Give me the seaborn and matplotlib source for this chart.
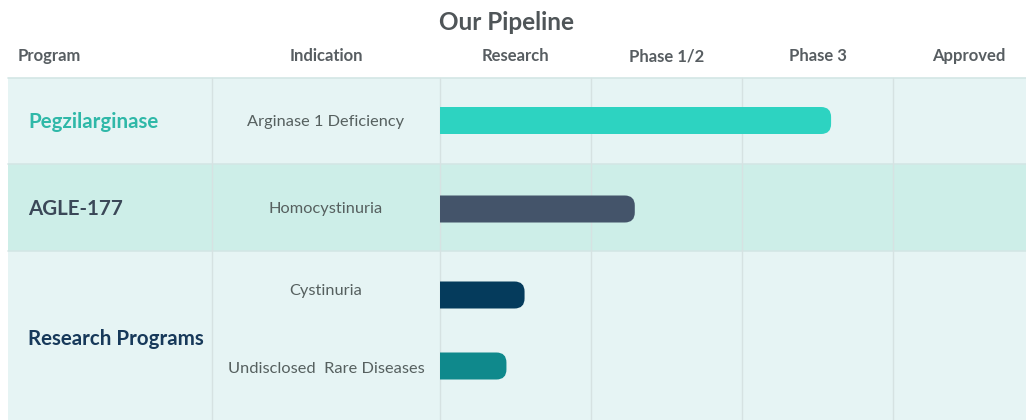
import numpy as np
import pandas as pd
import matplotlib
matplotlib.use("Agg")
import matplotlib.pyplot as plt
from matplotlib.patches import FancyBboxPatch, Rectangle
import seaborn as sns

# ---------------- data ----------------
title = "Our Pipeline"
column_headers = ["Program", "Indication"]
stages = ["Research", "Phase 1/2", "Phase 3", "Approved"]
programs = ["Pegzilarginase", "AGLE-177", "Research Programs"]
program_colors = ["#2fb8a8", "#3b4858", "#17395a"]
indications = ["Arginase 1 Deficiency", "Homocystinuria", "Cystinuria",
               "Undisclosed  Rare Diseases"]
indication_program = [0, 1, 2, 2]
progress = [2.59, 1.29, 0.56, 0.44]          # in stage units (1 = one stage)
bar_colors = ["#2dd3c1", "#44546a", "#053b5c", "#0f898c"]

# ---------------- layout (pixels) ----------------
W, H = 1026, 420
X0, PX = 440, 151          # pixel x of stage 0 and pixels per stage
def xd(px):
    return (px - X0) / PX

table_left = 8
table_top = 78
row_edges = [78, 164, 251, 420]
row_fill = ["#e6f4f4", "#cdeee8", "#e6f4f4"]
program_label_y = [122, 209, 339]
indication_label_y = [122, 209, 291, 369]
bar_y = [120.5, 209, 295, 366]
bar_h = 27
corner = 10
col_sep_px = [212, 440]
header_y = 56

sns.set_theme(style="white")
plt.rcParams["font.family"] = ["Lato", "DejaVu Sans"]

fig = plt.figure(figsize=(W / 100, H / 100), dpi=100)
ax = fig.add_axes([0, 0, 1, 1])

df = pd.DataFrame({"progress": progress, "row": bar_y, "indication": indications})
spacing = np.diff(sorted(bar_y)).min()
sns.barplot(data=df, x="progress", y="row", hue="indication",
            palette=dict(zip(indications, bar_colors)), orient="y",
            native_scale=True, dodge=False, legend=False, errorbar=None,
            saturation=1, width=bar_h / spacing, ax=ax)

bars = [p for p in ax.patches if isinstance(p, Rectangle)]
ax.set_xlim(xd(0), xd(W))
ax.set_ylim(H, 0)
ax.set_axis_off()

# replace rectangles by bars with a square left end and a rounded right end
r = corner / PX
for p in bars:
    x0, y0, w, h = p.get_x(), p.get_y(), p.get_width(), p.get_height()
    col = p.get_facecolor()
    p.remove()
    fb = FancyBboxPatch((x0 - r, y0), w + r, h,
                        boxstyle=f"round,pad=0,rounding_size={r}",
                        mutation_aspect=PX, facecolor=col,
                        edgecolor="none", zorder=5)
    ax.add_patch(fb)
    clip = Rectangle((x0, y0 - 2), w + 1, h + 4, transform=ax.transData)
    fb.set_clip_path(clip)

# row backgrounds
for (top, bot), fc in zip(zip(row_edges[:-1], row_edges[1:]), row_fill):
    ax.add_patch(Rectangle((xd(table_left), top), xd(W) - xd(table_left), bot - top,
                           facecolor=fc, edgecolor="none", zorder=0))
for y in row_edges[:-1]:
    ax.plot([xd(table_left), xd(W)], [y, y], color="#d3e6e5", lw=1.2, zorder=1)

# vertical grid lines
for px in col_sep_px:
    ax.plot([xd(px), xd(px)], [table_top, H], color="#d6e2e2", lw=1.0, zorder=1)
for i in range(1, len(stages)):
    ax.plot([i, i], [table_top, H], color="#d6e2e2", lw=1.0, zorder=1)

# title and headers
hdr_color = "#575d61"
ax.text(xd(506), 22, title, ha="center", va="center", fontsize=17.5,
        fontweight="bold", color="#4f5558")
ax.text(xd(18), header_y, column_headers[0], ha="left", va="center",
        fontsize=12, fontweight="bold", color=hdr_color)
ax.text(xd(326), header_y, column_headers[1], ha="center", va="center",
        fontsize=12, fontweight="bold", color=hdr_color)
for i, s in enumerate(stages):
    ax.text(i + 0.5, header_y, s, ha="center", va="center", fontsize=12,
            fontweight="bold", color=hdr_color)

# program labels
for name, col, y in zip(programs, program_colors, program_label_y):
    ax.text(xd(28), y, name, ha="left", va="center", fontsize=14.8,
            fontweight="bold", color=col)

# indication labels
for name, y in zip(indications, indication_label_y):
    ax.text(xd(326), y, name, ha="center", va="center", fontsize=11.8,
            color="#56605f")

fig.savefig("out.png", dpi=100)
